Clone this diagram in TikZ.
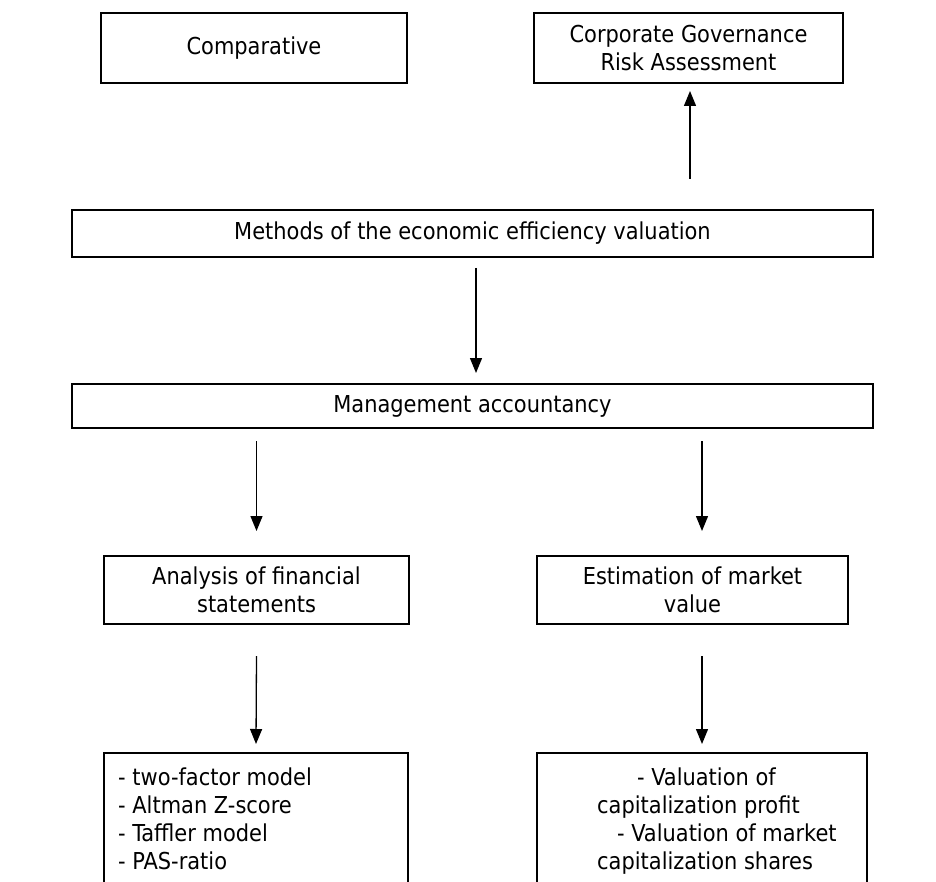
\documentclass[tikz,border=0pt]{standalone}
\usepackage{fontspec}
\setmainfont{DejaVu Sans Condensed}
\usetikzlibrary{arrows.meta}
\newcommand\dfont{\fontsize{23.3}{28}\selectfont}
\begin{document}
\begin{tikzpicture}[x=1pt,y=-1pt,
  box/.style={draw, line width=2pt, inner sep=0pt, align=center, font=\dfont},
  txt/.style={inner sep=0pt, align=left, font=\dfont, anchor=north west},
  arr/.style={line width=1.3pt, -{Triangle[width=12pt,length=15pt]}}]
\useasboundingbox (0,0) rectangle (936,882);
\clip (0,0) rectangle (936,882);
% boxes
\node[box, minimum width=306pt, minimum height=70pt] (comp) at (254,48) {Comparative};
\node[box, minimum width=309pt, minimum height=70pt] (corp) at (688.5,48) {Corporate Governance\\Risk Assessment};
\node[box, minimum width=801pt, minimum height=47pt] (meth) at (472.5,233.5) {Methods of the economic efficiency valuation};
\node[box, minimum width=801pt, minimum height=44pt] (mgmt) at (472.5,406) {Management accountancy};
\node[box, minimum width=305pt, minimum height=68pt] (anal) at (256.5,590) {Analysis of financial\\statements};
\node[box, minimum width=311pt, minimum height=68pt] (est) at (692.5,590) {Estimation of market\\value};
\node[box, minimum width=304pt, minimum height=147pt] (lista) at (256,826.5) {};
\node[box, minimum width=330pt, minimum height=147pt] (listb) at (702,826.5) {};
\node[txt] (listatxt) at (118,768) {- two-factor model\\- Altman Z-score\\- Taffler model\\- PAS-ratio};
\node[txt] (listbtxt) at (597,768) {\hspace*{40pt}- Valuation of\\capitalization profit\\\hspace*{20pt}- Valuation of market\\capitalization shares};
% arrows
\draw[arr] ([xshift=1.5pt,yshift=30pt]meth.north -| corp.south) -- ([xshift=1.5pt,yshift=-7pt]corp.south);
\draw[arr] ([xshift=3.5pt,yshift=-10pt]meth.south) -- ([xshift=3.5pt,yshift=10pt]mgmt.north);
\draw[arr] ([yshift=-12pt]mgmt.south -| anal.north) -- ([yshift=24pt]anal.north);
\draw[arr] ([xshift=9.5pt,yshift=-12pt]mgmt.south -| est.north) -- ([xshift=9.5pt,yshift=24pt]est.north);
\draw[arr] ([yshift=-31pt]anal.south) -- ([yshift=8pt]lista.north);
\draw[arr] ([yshift=-31pt]est.south -| listb.north) -- ([yshift=8pt]listb.north);
\end{tikzpicture}
\end{document}
